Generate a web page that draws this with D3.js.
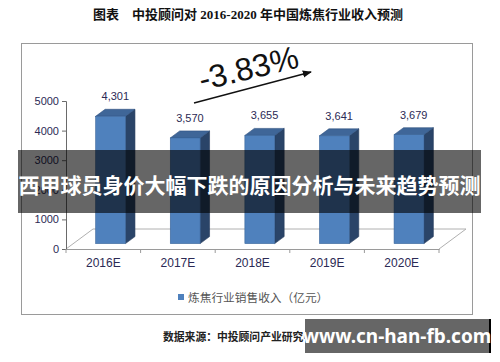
<!DOCTYPE html>
<html>
<head>
<meta charset="utf-8">
<script src="https://cdn.jsdelivr.net/npm/d3@7"></script>
<style>
  body { margin: 0; background: #fff; }
  svg { display: block; }
</style>
</head>
<body>
<div id="chart"></div>
<script>
const years = ["2016E", "2017E", "2018E", "2019E", "2020E"];
const revenue = [4301, 3570, 3655, 3641, 3679];
const yTicks = [0, 1000, 2000, 3000, 4000, 5000];
const cagrLabel = "-3.83%";
const titleText = "图表　中投顾问对 2016-2020 年中国炼焦行业收入预测";
const legendText = "炼焦行业销售收入（亿元）";
const sourceText = "数据来源：中投顾问产业研究中心";
const bannerText = "西甲球员身价大幅下跌的原因分析与未来趋势预测";
const siteText = "www.cn-han-fb.com";

const width = 500;
const height = 362;
const latin = "'Liberation Sans', Arial, sans-serif";
const cjk = "'Noto Sans CJK SC', sans-serif";

// 3d depth of the floor, bars sit between two fractions of it
const depth = { dx: 27, dy: -20 };
const barFront = 0.27;
const barBack = 0.62;

const svg = d3.select("#chart").append("svg")
  .attr("width", width)
  .attr("height", height);

svg.append("text")
  .attr("x", 248)
  .attr("y", 18.5)
  .attr("text-anchor", "middle")
  .style("font-family", "'Liberation Serif', 'Noto Sans CJK SC', serif")
  .style("font-weight", "bold")
  .style("font-size", "13px")
  .style("fill", "#111")
  .text(titleText);

// outer frame
svg.append("rect")
  .attr("x", 21.5)
  .attr("y", 43.5)
  .attr("width", 451)
  .attr("height", 271)
  .style("fill", "none")
  .style("stroke", "#9a9a9a");

const x = d3.scaleBand().domain(years).range([66, 439])
  .paddingInner(0.6).paddingOuter(0.3);
const y = d3.scaleLinear().domain([0, 5000]).range([249, 101]);

const g = svg.append("g");

// floor
const x0 = x.range()[0], x1 = x.range()[1], y0 = y(0);
g.append("path")
  .attr("d", `M${x0},${y0}L${x0 + depth.dx},${y0 + depth.dy}L${x1 + depth.dx},${y0 + depth.dy}L${x1},${y0}`)
  .style("fill", "none")
  .style("stroke", "#b0b0b0");

// bars
const fdx = depth.dx * barFront, fdy = depth.dy * barFront;
const bdx = depth.dx * (barBack - barFront), bdy = depth.dy * (barBack - barFront);
const data = years.map((d, i) => ({ year: d, value: revenue[i] }));

const bars = g.selectAll("g.bar").data(data).enter().append("g").attr("class", "bar");

bars.append("path") // side
  .attr("d", (d) => {
    const xr = x(d.year) + x.bandwidth() + fdx, yt = y(d.value) + fdy, yb = y(0) + fdy;
    return `M${xr},${yt}L${xr + bdx},${yt + bdy}L${xr + bdx},${yb + bdy}L${xr},${yb}Z`;
  })
  .style("fill", "#2a4468")
  .style("stroke", "#23395a")
  .style("stroke-width", 0.6);

bars.append("path") // top
  .attr("d", (d) => {
    const xl = x(d.year) + fdx, xr = xl + x.bandwidth(), yt = y(d.value) + fdy;
    return `M${xl},${yt}L${xr},${yt}L${xr + bdx},${yt + bdy}L${xl + bdx},${yt + bdy}Z`;
  })
  .style("fill", "#3f6698")
  .style("stroke", "#2f5080")
  .style("stroke-width", 0.6);

bars.append("rect") // front
  .attr("x", (d) => x(d.year) + fdx)
  .attr("y", (d) => y(d.value) + fdy)
  .attr("width", x.bandwidth())
  .attr("height", (d) => y(0) - y(d.value))
  .style("fill", "#4f81bd")
  .style("stroke", "#3a659a")
  .style("stroke-width", 0.6);

bars.append("text")
  .attr("x", (d) => x(d.year) + fdx + (x.bandwidth() + bdx) / 2)
  .attr("y", (d) => y(d.value) + fdy + bdy - 9)
  .attr("text-anchor", "middle")
  .style("font-family", latin)
  .style("font-size", "11px")
  .style("fill", "#2b2a55")
  .text((d) => d3.format(",")(d.value));

// y axis
const yAxis = g.append("g")
  .attr("transform", `translate(${x0},0)`)
  .call(d3.axisLeft(y).tickValues(yTicks).tickSize(4).tickPadding(3).tickFormat(d3.format("d")));
yAxis.select(".domain").style("stroke", "#6a6a6a");
yAxis.selectAll(".tick line").style("stroke", "#6a6a6a");
yAxis.selectAll("text")
  .style("font-family", latin)
  .style("font-size", "11px")
  .style("fill", "#2b2a55");

// x axis: labels at band centres, ticks at band edges
const xAxis = g.append("g")
  .attr("transform", `translate(0,${y0})`)
  .call(d3.axisBottom(x).tickSize(0).tickPadding(9));
xAxis.select(".domain").style("stroke", "#9a9a9a");
xAxis.selectAll("text")
  .style("font-family", latin)
  .style("font-size", "12px")
  .style("fill", "#2b2a55");
xAxis.selectAll("line.edge").data(d3.range(years.length + 1)).enter().append("line")
  .attr("class", "edge")
  .attr("x1", (i) => x0 + i * x.step())
  .attr("x2", (i) => x0 + i * x.step())
  .attr("y1", 0)
  .attr("y2", 4)
  .style("stroke", "#9a9a9a");

// trend annotation
svg.append("defs").append("marker")
  .attr("id", "arrow")
  .attr("viewBox", "0 0 10 10")
  .attr("refX", 9)
  .attr("refY", 5)
  .attr("markerWidth", 7)
  .attr("markerHeight", 7)
  .attr("orient", "auto")
  .append("path")
  .attr("d", "M0,1L10,5L0,9Z")
  .style("fill", "#111");

svg.append("line")
  .attr("x1", 194)
  .attr("y1", 103)
  .attr("x2", 311)
  .attr("y2", 72)
  .style("stroke", "#111")
  .style("stroke-width", 1.3)
  .attr("marker-end", "url(#arrow)");

svg.append("text")
  .attr("transform", "translate(251,79) rotate(-13.5)")
  .attr("text-anchor", "middle")
  .style("font-family", latin)
  .style("font-size", "32px")
  .style("fill", "#111")
  .text(cagrLabel);

// legend
svg.append("rect")
  .attr("x", 178)
  .attr("y", 294)
  .attr("width", 6)
  .attr("height", 6)
  .style("fill", "#4f81bd");
svg.append("text")
  .attr("x", 188)
  .attr("y", 301.5)
  .style("font-family", cjk)
  .style("font-size", "11.7px")
  .style("fill", "#555")
  .text(legendText);

// source
svg.append("text")
  .attr("x", 163)
  .attr("y", 341)
  .style("font-family", cjk)
  .style("font-size", "10.8px")
  .style("font-weight", "bold")
  .style("fill", "#222")
  .text(sourceText);

// overlay banner
svg.append("rect")
  .attr("x", 18)
  .attr("y", 150)
  .attr("width", 463)
  .attr("height", 63)
  .style("fill", "rgba(0,0,0,0.6)");
svg.append("text")
  .attr("x", 249.5)
  .attr("y", 193)
  .attr("text-anchor", "middle")
  .style("font-family", cjk)
  .style("font-size", "21px")
  .style("font-weight", "bold")
  .style("fill", "#fff")
  .text(bannerText);

// site watermark
svg.append("rect")
  .attr("x", 305)
  .attr("y", 319)
  .attr("width", 184)
  .attr("height", 34)
  .style("fill", "#666");
svg.append("rect")
  .attr("x", 489)
  .attr("y", 319)
  .attr("width", 2)
  .attr("height", 34)
  .style("fill", "#000");
svg.append("text")
  .attr("x", 397)
  .attr("y", 343)
  .attr("text-anchor", "middle")
  .style("font-family", "'Noto Sans', sans-serif")
  .style("font-size", "19px")
  .style("font-weight", "bold")
  .style("fill", "#fff")
  .text(siteText);
</script>
</body>
</html>
